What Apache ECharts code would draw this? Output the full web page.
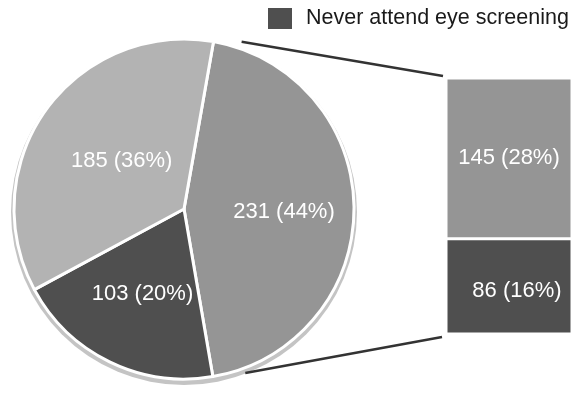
<!DOCTYPE html>
<html><head><meta charset="utf-8">
<script src="https://cdn.jsdelivr.net/npm/echarts@6/dist/echarts.min.js"></script>
<style>html,body{margin:0;padding:0;background:#fff}#c{width:578px;height:397px}</style>
</head><body><div id="c"></div>
<script>
// ---- data ----
const pieNames = ['Group A', 'Never attend eye screening', 'Group C'];
const pieValues = [231, 103, 185];
const piePercents = [44, 20, 36];
const barNames = ['Never attend eye screening', 'Attend eye screening'];
const barValues = [86, 145];       // bottom, top
const barPercents = [16, 28];
const legendItems = ['Never attend eye screening'];

// ---- styles / layout ----
const LIGHT = '#b3b3b3', MID = '#959595', DARK = '#4f4f4f';
const pieColors = [MID, DARK, LIGHT];
const barColors = [DARK, MID];
const CX = 184, CY = 209, R = 170;
const G_LEFT = 446, G_RIGHT = 6, G_TOP = 78, G_BOTTOM = 63;
const FONT = 'Liberation Sans, Arial, sans-serif';
const pieLabelOffsets = [[12, 3], [-3, 6], [9, 3]];
const barLabelOffsets = [[8, 5], [0, 0]];

const chart = echarts.init(document.getElementById('c'), null, {renderer: 'canvas'});

const pieData = pieValues.map((v, i) => ({
  name: pieNames[i], value: v,
  itemStyle: {color: pieColors[i]},
  label: {offset: pieLabelOffsets[i]}
}));

const barSeries = barValues.map((v, i) => ({
  type: 'bar', name: barNames[i], stack: 'b', data: [v],
  barWidth: '100%',
  itemStyle: {color: barColors[i], borderColor: '#fff', borderWidth: 1.5},
  label: {
    show: true, position: 'inside', color: '#fff', fontSize: 22, fontFamily: FONT,
    offset: barLabelOffsets[i],
    formatter: () => barValues[i] + ' (' + barPercents[i] + '%)'
  },
  silent: true
}));

const option = {
  animation: false,
  backgroundColor: '#fff',
  legend: {
    data: legendItems,
    left: 266, top: 6, padding: 0,
    icon: 'rect', itemWidth: 26, itemHeight: 23,
    textStyle: {fontSize: 21.5, color: '#1a1a1a', fontFamily: FONT, padding: [0, 0, 0, 8]},
    selectedMode: false
  },
  grid: {left: G_LEFT, right: G_RIGHT, top: G_TOP, bottom: G_BOTTOM},
  xAxis: {type: 'category', data: ['x'], show: false},
  yAxis: {type: 'value', min: 0, max: 231, show: false},
  series: [
    {
      type: 'pie', silent: true, center: [CX, CY + 3], radius: R + 3,
      data: [{value: 1, name: '_bg'}],
      itemStyle: {color: '#c4c4c4'}, label: {show: false}, labelLine: {show: false}, z: 1
    },
    {
      type: 'pie', silent: true, center: [CX, CY], radius: R,
      startAngle: 80, clockwise: true,
      data: pieData,
      itemStyle: {borderColor: '#fff', borderWidth: 3},
      label: {
        show: true, position: 'inside', color: '#fff', fontSize: 22, fontFamily: FONT,
        formatter: p => pieValues[p.dataIndex] + ' (' + piePercents[p.dataIndex] + '%)'
      },
      labelLine: {show: false}, z: 2
    },
    ...barSeries
  ]
};
chart.setOption(option);

// connector lines from pie rim to bar corners
function rimPoint(degFromTop, r) {
  const a = degFromTop * Math.PI / 180;
  return [CX + r * Math.sin(a), CY - r * Math.cos(a)];
}
const barTop = chart.convertToPixel({gridIndex: 0}, [0, barValues[0] + barValues[1]]);
const barBot = chart.convertToPixel({gridIndex: 0}, [0, 0]);
const p1 = rimPoint(19, 177), p2 = rimPoint(159.5, 175);
chart.setOption({
  graphic: [
    {type: 'line', shape: {x1: p1[0], y1: p1[1], x2: G_LEFT - 3, y2: barTop[1] - 2},
     style: {stroke: '#333', lineWidth: 2.5}, z: 10},
    {type: 'line', shape: {x1: p2[0], y1: p2[1], x2: G_LEFT - 4, y2: barBot[1] + 3},
     style: {stroke: '#333', lineWidth: 2.5}, z: 10}
  ]
});
</script></body></html>
